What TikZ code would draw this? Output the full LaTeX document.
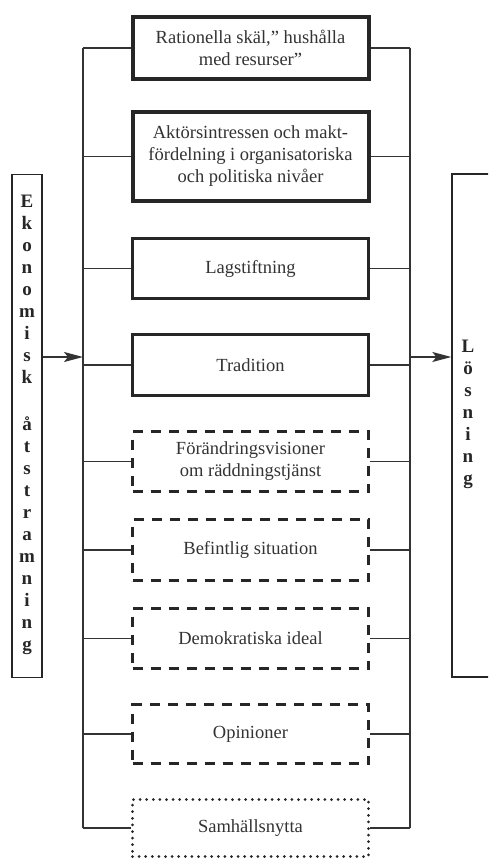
\documentclass[tikz,border=0pt]{standalone}
\usepackage{fontspec}
\setmainfont{Liberation Serif}
\usetikzlibrary{arrows.meta}
\begin{document}
\begin{tikzpicture}[x=1pt,y=-1pt,
  ink/.style={draw=black!85},
  box/.style={ink, minimum width=236pt, align=center, font=\fontsize{18.5}{22}\selectfont, text=black!80, inner sep=0pt},
  thickbox/.style={box, line width=4pt},
  solidbox/.style={box, line width=3pt},
  dashbox/.style={box, line width=3pt, dash pattern=on 10pt off 8pt},
  dotbox/.style={box, line width=3pt, dash pattern=on 0pt off 6.6pt, line cap=round},
  side/.style={ink, line width=1.3pt, minimum width=30pt, minimum height=503pt, inner sep=0pt},
  letters/.style={font=\bfseries\fontsize{19}{22}\selectfont, align=center, text=black!85, inner sep=0pt},
  conn/.style={draw=black!80, line width=1.4pt},
  arr/.style={conn, -{Stealth[length=19pt,width=10pt,inset=4pt]}}
]
\clip (0,0) rectangle (488,859);
\fill[white] (0,0) rectangle (488,859);

\node[thickbox, minimum height=62pt] (b1) at (250.5,48) {Rationella skäl,” hushålla\\med resurser”};
\node[thickbox, minimum height=89pt] (b2) at (250.5,156.5) {Aktörsintressen och makt-\\fördelning i organisatoriska\\och politiska nivåer};
\node[solidbox, minimum height=60pt] (b3) at (250.5,268.5) {Lagstiftning};
\node[solidbox, minimum height=61pt] (b4) at (250.5,365) {Tradition};
\node[dashbox, minimum height=60pt] (b5) at (250.5,461.5) {Förändringsvisioner\\om räddningstjänst};
\node[dashbox, minimum height=61pt] (b6) at (250.5,550) {Befintlig situation};
\node[dashbox, minimum height=60pt] (b7) at (250.5,638.5) {Demokratiska ideal};
\node[dashbox, minimum height=59pt] (b8) at (250.5,734) {Opinioner};
\node[dotbox, minimum height=57pt] (b9) at (250.5,828) {Samhällsnytta};

\node[side] (ek) at (27,426) {};
\node[letters] (ektext) at (27,425) {E\\k\\o\\n\\o\\m\\i\\s\\k\\[25pt]å\\t\\s\\t\\r\\a\\m\\n\\i\\n\\g};
\node[side, minimum width=40pt] (lo) at (472,425.5) {};
\node[letters] (lotext) at (468,414) {L\\ö\\s\\n\\i\\n\\g};

\coordinate (lb) at (83,0);
\coordinate (rb) at (410,0);
\draw[conn] (b1.west -| lb) -- (b9.west -| lb);
\draw[conn] (b1.east -| rb) -- (b9.east -| rb);
\foreach \i in {1,...,9} {
  \draw[conn] (b\i.west) -- (b\i.west -| lb);
  \draw[conn] (b\i.east) -- (b\i.east -| rb);
}
\coordinate (ain) at (83,357);
\coordinate (aout) at (452,357);
\draw[arr] (ek.east |- ain) -- (ain);
\draw[arr] (rb |- aout) -- (lo.west |- aout);
\end{tikzpicture}
\end{document}
